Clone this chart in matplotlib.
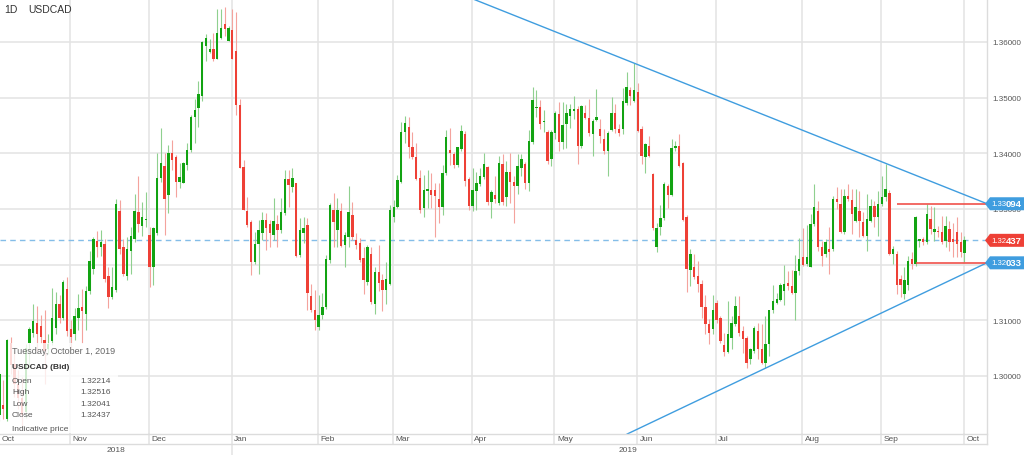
import numpy as np
import pandas as pd
import matplotlib
matplotlib.use("Agg")
import matplotlib.pyplot as plt
from matplotlib import transforms
from matplotlib.patches import Polygon, Rectangle
from matplotlib.lines import Line2D

plt.rcParams['font.family'] = ['Liberation Sans', 'DejaVu Sans']

# daily USDCAD candles, 5 Oct 2018 .. 1 Oct 2019
dates = pd.bdate_range("2018-10-05", "2019-10-01")

opens = [
    # Oct 2018
    1.2930, 1.2948, 1.2923, 1.3060, 1.3022, 1.2985, 1.2960, 1.2935, 1.3060, 1.3078,
    1.3096, 1.3090, 1.3065, 1.3048, 1.3062, 1.3087, 1.3130, 1.3105, 1.3156,
    # Nov
    1.3085, 1.3075, 1.3105, 1.3124, 1.3112, 1.3153, 1.3192, 1.3243, 1.3232, 1.3237,
    1.3180, 1.3141, 1.3155, 1.3297, 1.3231, 1.3180, 1.3225, 1.3246, 1.3294, 1.3270,
    1.3280, 1.3253,
    # Dec
    1.3196, 1.3256, 1.3355, 1.3378, 1.3325, 1.3400, 1.3394, 1.3349, 1.3347, 1.3379,
    1.3406, 1.3466, 1.3482, 1.3503, 1.3593, 1.3582, 1.3587, 1.3569, 1.3608, 1.3632,
    1.3602,
    # Jan 2019
    1.3621, 1.3584, 1.3486, 1.3376, 1.3297, 1.3277, 1.3205, 1.3237, 1.3256, 1.3280,
    1.3273, 1.3253, 1.3273, 1.3262, 1.3292, 1.3354, 1.3340, 1.3347, 1.3217, 1.3256,
    1.3271, 1.3143, 1.3119,
    # Feb
    1.3088, 1.3109, 1.3124, 1.3209, 1.3299, 1.3262, 1.3296, 1.3235, 1.3250, 1.3289,
    1.3244, 1.3239, 1.3212, 1.3169, 1.3220, 1.3130, 1.3187, 1.3172, 1.3154, 1.3166,
    # Mar
    1.3286, 1.3304, 1.3349, 1.3438, 1.3447, 1.3411, 1.3393, 1.3355, 1.3301, 1.3333,
    1.3335, 1.3334, 1.3318, 1.3303, 1.3364, 1.3406, 1.3399, 1.3379, 1.3407, 1.3435,
    1.3354,
    # Apr
    1.3305, 1.3333, 1.3345, 1.3357, 1.3375, 1.3313, 1.3326, 1.3310, 1.3381, 1.3321,
    1.3366, 1.3348, 1.3342, 1.3373, 1.3381, 1.3347, 1.3420, 1.3481, 1.3484, 1.3456,
    1.3438, 1.3390,
    # May
    1.3437, 1.3470, 1.3420, 1.3452, 1.3467, 1.3476, 1.3479, 1.3413, 1.3473, 1.3464,
    1.3435, 1.3459, 1.3443, 1.3425, 1.3404, 1.3441, 1.3473, 1.3443, 1.3443, 1.3491,
    1.3514, 1.3494, 1.3510,
    # Jun
    1.3443, 1.3393, 1.3413, 1.3362, 1.3232, 1.3268, 1.3283, 1.3342, 1.3326, 1.3409,
    1.3413, 1.3383, 1.3286, 1.3190, 1.3196, 1.3180, 1.3166, 1.3124, 1.3094, 1.3085,
    # Jul
    1.3132, 1.3104, 1.3055, 1.3043, 1.3069, 1.3094, 1.3107, 1.3080, 1.3069, 1.3030,
    1.3045, 1.3080, 1.3048, 1.3024, 1.3057, 1.3118, 1.3132, 1.3137, 1.3152, 1.3167,
    1.3161, 1.3149, 1.3188,
    # Aug
    1.3214, 1.3202, 1.3196, 1.3273, 1.3297, 1.3231, 1.3219, 1.3228, 1.3228, 1.3318,
    1.3309, 1.3258, 1.3324, 1.3316, 1.3279, 1.3297, 1.3276, 1.3252, 1.3279, 1.3306,
    1.3285, 1.3309,
    # Sep
    1.3321, 1.3328, 1.3219, 1.3219, 1.3175, 1.3148, 1.3163, 1.3210, 1.3201, 1.3243,
    1.3246, 1.3240, 1.3282, 1.3258, 1.3261, 1.3258, 1.3243, 1.3264, 1.3246, 1.3258,
    1.3240,
    # Oct
    1.32214,
]

highs = [
    1.3008, 1.2992, 1.3067, 1.3070, 1.3045, 1.3010, 1.2998, 1.3058, 1.3088, 1.3129,
    1.3125, 1.3110, 1.3118, 1.3075, 1.3158, 1.3150, 1.3145, 1.3172, 1.3177,
    1.3100, 1.3123, 1.3147, 1.3157, 1.3162, 1.3225, 1.3249, 1.3261, 1.3262, 1.3246,
    1.3195, 1.3196, 1.3318, 1.3316, 1.3246, 1.3250, 1.3267, 1.3327, 1.3360, 1.3312,
    1.3330, 1.3268,
    1.3268, 1.3400, 1.3445, 1.3400, 1.3415, 1.3424, 1.3397, 1.3382, 1.3385, 1.3418,
    1.3469, 1.3497, 1.3530, 1.3602, 1.3614, 1.3605, 1.3617, 1.3659, 1.3659, 1.3662,
    1.3629,
    1.3659, 1.3653, 1.3497, 1.3388, 1.3322, 1.3280, 1.3259, 1.3280, 1.3295, 1.3292,
    1.3280, 1.3319, 1.3289, 1.3319, 1.3370, 1.3370, 1.3373, 1.3347, 1.3283, 1.3286,
    1.3283, 1.3165, 1.3155,
    1.3145, 1.3149, 1.3217, 1.3310, 1.3328, 1.3319, 1.3310, 1.3259, 1.3341, 1.3313,
    1.3256, 1.3247, 1.3232, 1.3235, 1.3232, 1.3196, 1.3235, 1.3184, 1.3205, 1.3307,
    1.3316, 1.3361, 1.3457, 1.3467, 1.3466, 1.3439, 1.3418, 1.3370, 1.3361, 1.3370,
    1.3365, 1.3346, 1.3346, 1.3379, 1.3442, 1.3445, 1.3403, 1.3412, 1.3450, 1.3440,
    1.3357,
    1.3374, 1.3366, 1.3374, 1.3401, 1.3378, 1.3334, 1.3360, 1.3395, 1.3399, 1.3387,
    1.3400, 1.3360, 1.3398, 1.3398, 1.3384, 1.3441, 1.3520, 1.3514, 1.3495, 1.3477,
    1.3441, 1.3441,
    1.3476, 1.3492, 1.3492, 1.3488, 1.3488, 1.3503, 1.3485, 1.3486, 1.3486, 1.3497,
    1.3461, 1.3515, 1.3461, 1.3443, 1.3440, 1.3502, 1.3488, 1.3452, 1.3518, 1.3546,
    1.3520, 1.3563, 1.3527,
    1.3449, 1.3419, 1.3431, 1.3365, 1.3274, 1.3308, 1.3348, 1.3345, 1.3425, 1.3422,
    1.3434, 1.3384, 1.3289, 1.3229, 1.3220, 1.3207, 1.3172, 1.3145, 1.3103, 1.3145,
    1.3137, 1.3107, 1.3078, 1.3135, 1.3107, 1.3143, 1.3143, 1.3089, 1.3072, 1.3051,
    1.3089, 1.3095, 1.3093, 1.3107, 1.3119, 1.3164, 1.3149, 1.3167, 1.3200, 1.3188,
    1.3191, 1.3218, 1.3247,
    1.3266, 1.3272, 1.3291, 1.3345, 1.3315, 1.3243, 1.3246, 1.3267, 1.3324, 1.3339,
    1.3336, 1.3336, 1.3345, 1.3336, 1.3336, 1.3333, 1.3294, 1.3327, 1.3318, 1.3315,
    1.3333, 1.3360,
    1.3381, 1.3334, 1.3234, 1.3225, 1.3181, 1.3196, 1.3215, 1.3222, 1.3288, 1.3246,
    1.3250, 1.3309, 1.3306, 1.3303, 1.3270, 1.3288, 1.3288, 1.3279, 1.3275, 1.3285,
    1.3258,
    1.32516,
]

lows = [
    1.2920, 1.2923, 1.2920, 1.3004, 1.2962, 1.2940, 1.2908, 1.2925, 1.3016, 1.3070,
    1.3045, 1.3060, 1.2985, 1.3040, 1.3055, 1.3075, 1.3095, 1.3100, 1.3072,
    1.3050, 1.3065, 1.3082, 1.3060, 1.3082, 1.3147, 1.3183, 1.3213, 1.3215, 1.3168,
    1.3123, 1.3138, 1.3150, 1.3219, 1.3180, 1.3172, 1.3183, 1.3240, 1.3258, 1.3252,
    1.3267, 1.3160,
    1.3163, 1.3253, 1.3349, 1.3253, 1.3292, 1.3370, 1.3322, 1.3337, 1.3346, 1.3370,
    1.3403, 1.3418, 1.3448, 1.3494, 1.3566, 1.3581, 1.3566, 1.3569, 1.3605, 1.3611,
    1.3602,
    1.3569, 1.3469, 1.3373, 1.3298, 1.3268, 1.3181, 1.3202, 1.3183, 1.3244, 1.3226,
    1.3232, 1.3244, 1.3232, 1.3256, 1.3289, 1.3304, 1.3331, 1.3214, 1.3214, 1.3238,
    1.3118, 1.3115, 1.3082,
    1.3082, 1.3103, 1.3121, 1.3203, 1.3232, 1.3232, 1.3232, 1.3196, 1.3232, 1.3244,
    1.3229, 1.3205, 1.3148, 1.3163, 1.3130, 1.3112, 1.3153, 1.3117, 1.3129, 1.3163,
    1.3277, 1.3301, 1.3346, 1.3418, 1.3391, 1.3389, 1.3352, 1.3292, 1.3286, 1.3301,
    1.3301, 1.3250, 1.3274, 1.3289, 1.3361, 1.3379, 1.3373, 1.3376, 1.3405, 1.3342,
    1.3299,
    1.3296, 1.3298, 1.3341, 1.3354, 1.3307, 1.3283, 1.3310, 1.3308, 1.3308, 1.3305,
    1.3310, 1.3274, 1.3327, 1.3359, 1.3336, 1.3333, 1.3416, 1.3465, 1.3444, 1.3438,
    1.3380, 1.3377,
    1.3425, 1.3405, 1.3407, 1.3410, 1.3445, 1.3462, 1.3381, 1.3410, 1.3461, 1.3431,
    1.3395, 1.3458, 1.3419, 1.3398, 1.3359, 1.3440, 1.3437, 1.3431, 1.3434, 1.3486,
    1.3486, 1.3492, 1.3438,
    1.3381, 1.3365, 1.3394, 1.3262, 1.3222, 1.3253, 1.3280, 1.3301, 1.3323, 1.3405,
    1.3375, 1.3279, 1.3150, 1.3162, 1.3175, 1.3150, 1.3105, 1.3076, 1.3057, 1.3076,
    1.3095, 1.3060, 1.3036, 1.3042, 1.3048, 1.3089, 1.3072, 1.3042, 1.3015, 1.3021,
    1.3042, 1.3030, 1.3021, 1.3015, 1.3036, 1.3113, 1.3130, 1.3134, 1.3128, 1.3155,
    1.3148, 1.3101, 1.3182,
    1.3197, 1.3197, 1.3196, 1.3270, 1.3225, 1.3198, 1.3213, 1.3184, 1.3225, 1.3300,
    1.3257, 1.3255, 1.3315, 1.3255, 1.3276, 1.3249, 1.3249, 1.3225, 1.3276, 1.3267,
    1.3252, 1.3306,
    1.3315, 1.3218, 1.3201, 1.3148, 1.3142, 1.3139, 1.3154, 1.3192, 1.3198, 1.3231,
    1.3235, 1.3237, 1.3255, 1.3243, 1.3250, 1.3237, 1.3231, 1.3225, 1.3213, 1.3213,
    1.3213,
    1.32041,
]

closes = [
    1.3004, 1.2941, 1.3064, 1.3020, 1.2985, 1.2960, 1.2930, 1.3050, 1.3084, 1.3099,
    1.3075, 1.3070, 1.3045, 1.3058, 1.3105, 1.3129, 1.3105, 1.3168, 1.3081,
    1.3070, 1.3108, 1.3123, 1.3116, 1.3153, 1.3207, 1.3246, 1.3232, 1.3240, 1.3174,
    1.3141, 1.3160, 1.3309, 1.3228, 1.3183, 1.3228, 1.3252, 1.3297, 1.3273, 1.3285,
    1.3282, 1.3196,
    1.3265, 1.3355, 1.3382, 1.3318, 1.3400, 1.3388, 1.3349, 1.3358, 1.3382, 1.3406,
    1.3466, 1.3477, 1.3506, 1.3600, 1.3608, 1.3587, 1.3569, 1.3617, 1.3626, 1.3623,
    1.3625,
    1.3569, 1.3486, 1.3373, 1.3298, 1.3271, 1.3205, 1.3237, 1.3263, 1.3280, 1.3265,
    1.3256, 1.3279, 1.3262, 1.3295, 1.3354, 1.3343, 1.3355, 1.3215, 1.3262, 1.3265,
    1.3149, 1.3119, 1.3100,
    1.3109, 1.3124, 1.3211, 1.3307, 1.3277, 1.3299, 1.3233, 1.3254, 1.3295, 1.3250,
    1.3235, 1.3209, 1.3172, 1.3232, 1.3133, 1.3187, 1.3167, 1.3154, 1.3175, 1.3298,
    1.3304, 1.3352, 1.3438, 1.3454, 1.3412, 1.3393, 1.3353, 1.3298, 1.3334, 1.3335,
    1.3325, 1.3324, 1.3303, 1.3364, 1.3429, 1.3400, 1.3379, 1.3411, 1.3440, 1.3350,
    1.3305,
    1.3335, 1.3347, 1.3359, 1.3380, 1.3313, 1.3330, 1.3318, 1.3383, 1.3313, 1.3366,
    1.3348, 1.3342, 1.3377, 1.3390, 1.3347, 1.3422, 1.3496, 1.3483, 1.3453, 1.3458,
    1.3387, 1.3438,
    1.3473, 1.3420, 1.3450, 1.3473, 1.3480, 1.3480, 1.3413, 1.3485, 1.3464, 1.3437,
    1.3458, 1.3466, 1.3431, 1.3404, 1.3437, 1.3473, 1.3443, 1.3437, 1.3494, 1.3520,
    1.3503, 1.3514, 1.3440,
    1.3395, 1.3417, 1.3395, 1.3266, 1.3266, 1.3283, 1.3345, 1.3326, 1.3410, 1.3413,
    1.3377, 1.3280, 1.3193, 1.3219, 1.3178, 1.3166, 1.3124, 1.3094, 1.3077, 1.3118,
    1.3101, 1.3063, 1.3043, 1.3075, 1.3095, 1.3125, 1.3078, 1.3066, 1.3024, 1.3048,
    1.3086, 1.3048, 1.3024, 1.3057, 1.3118, 1.3134, 1.3139, 1.3164, 1.3166, 1.3161,
    1.3149, 1.3188, 1.3210,
    1.3199, 1.3214, 1.3273, 1.3303, 1.3231, 1.3215, 1.3240, 1.3222, 1.3318, 1.3312,
    1.3258, 1.3324, 1.3318, 1.3291, 1.3303, 1.3279, 1.3252, 1.3282, 1.3306, 1.3285,
    1.3309, 1.3321,
    1.3336, 1.3219, 1.3228, 1.3163, 1.3163, 1.3172, 1.3207, 1.3201, 1.3285, 1.3246,
    1.3240, 1.3291, 1.3264, 1.3264, 1.3258, 1.3240, 1.3270, 1.3240, 1.3240, 1.3237,
    1.3222,
    1.32437,
]

# drawn annotations (date, price)
trend_upper = [("2019-05-30", 1.3562), ("2019-09-02", 1.3382)]
trend_lower = [("2019-07-18", 1.3014), ("2019-09-10", 1.3136)]
level_lines = [("2019-09-05", 1.33094), ("2019-09-12", 1.32033)]
price_ticks = [1.30, 1.31, 1.32, 1.33, 1.34, 1.35, 1.36]

GREEN, GREEN_WICK = "#12a312", "#8fd08f"
RED, RED_WICK = "#ee4036", "#f4a39d"
BLUE = "#3f9ddf"
GRID = "#e3e3e3"
TXT = "#555555"

W, H = 1024, 456
fig = plt.figure(figsize=(W / 100, H / 100), dpi=100)
ax = fig.add_axes([0, 21 / H, 987 / W, 435 / H])

o, h, l, c = (np.array(v) for v in (opens, highs, lows, closes))
x = np.arange(len(dates))
up = c >= o
for mask, body_col, wick_col in [(up, GREEN, GREEN_WICK), (~up, RED, RED_WICK)]:
    ax.vlines(x[mask], l[mask], h[mask], color=wick_col, lw=0.8, zorder=2)
    ax.bar(x[mask], np.maximum(np.abs(c - o)[mask], 0.00022),
           bottom=np.minimum(o, c)[mask], width=0.64, color=body_col, lw=0, zorder=3)

ax.set_xlim(0.145, 263.0)
ax.set_ylim(1.28958, 1.36772)

def pos(day):
    return dates.get_loc(pd.Timestamp(day))

# month grid: last trading day on/before the 1st
month_starts = pd.date_range("2018-11-01", "2019-10-01", freq="MS")
month_pos = dates.searchsorted(month_starts, side="right") - 1 - 0.2
ax.set_xticks(month_pos)
ax.set_xticklabels([])
ax.set_yticks(price_ticks)
ax.yaxis.tick_right()
# the 1.32000 label sits fully under the 1.32033 tag in the original
ax.set_yticklabels(["" if abs(p - level_lines[1][1]) < 0.001 else f"{p:.5f}" for p in price_ticks])
ax.tick_params(length=0, labelsize=5.8, labelcolor=TXT, pad=4)
ax.grid(True, color=GRID, lw=1.1, zorder=0)
ax.set_axisbelow(True)
for s in ax.spines.values():
    s.set_visible(False)

# trend lines, level lines, last price line
ax.axline((pos(trend_upper[0][0]), trend_upper[0][1]),
          (pos(trend_upper[1][0]), trend_upper[1][1]), color=BLUE, lw=1, zorder=4)
ax.axline((pos(trend_lower[0][0]), trend_lower[0][1]),
          (pos(trend_lower[1][0]), trend_lower[1][1]), color=BLUE, lw=1, zorder=4)
for day, price in level_lines:
    ax.hlines(price, pos(day), 263.0, color="#f0524b", lw=1.2, zorder=4)
ax.axhline(closes[-1], color="#84bde8", lw=1, ls=(0, (4, 3)), zorder=1)

# bottom date strip
xt = ax.get_xaxis_transform()
for p in month_pos:
    bottom = -21 / 435 if p == month_pos[2] else -10 / 435
    ax.plot([p, p], [0, bottom], transform=xt, color=GRID, lw=1.1, clip_on=False)
for yy in (435, 445):
    fig.add_artist(Line2D([0, 987 / W], [1 - yy / H] * 2, color="#dcdcdc", lw=1))
fig.add_artist(Line2D([987 / W] * 2, [1 - 445 / H, 1], color="#dcdcdc", lw=1))

lab_tr = transforms.offset_copy(xt, fig=fig, x=2.5, y=-5, units="dots")
ax.text(0.145 - 0.3, 0, "Oct", transform=lab_tr, fontsize=6, color=TXT, va="center", ha="left")
for p, m in zip(month_pos, month_starts):
    ax.text(p, 0, m.strftime("%b"), transform=lab_tr, fontsize=6, color=TXT,
            va="center", ha="left", clip_on=False)

fig.canvas.draw()
jan_px = ax.transData.transform((month_pos[2], 0))[0]
fig.text(jan_px / 2 / W, 1 - 450.5 / H, "2018", fontsize=6, color=TXT, ha="center", va="center")
fig.text((jan_px + W) / 2 / W, 1 - 450.5 / H, "2019", fontsize=6, color=TXT, ha="center", va="center")

# price tags on the right
tag_tr = transforms.blended_transform_factory(fig.transFigure, ax.transData)
half = 6.5 / 5567
for price, col in [(level_lines[0][1], BLUE), (closes[-1], RED), (level_lines[1][1], BLUE)]:
    pts = [(985 / W, price), (990 / W, price + half), (1.0, price + half),
           (1.0, price - half), (990 / W, price - half)]
    fig.add_artist(Polygon(pts, closed=True, transform=tag_tr, color=col, lw=0, zorder=5))
    s = f"{price:.5f}"
    fig.text(991.5 / W, price, s[:4], transform=tag_tr, fontsize=5.6, color="white",
             va="center", ha="left", zorder=6)
    fig.text(1005.5 / W, price, s[4:], transform=tag_tr, fontsize=6.8, color="white",
             weight="bold", va="center", ha="left", zorder=6)

# header
fig.text(4 / W, 1 - 10 / H, "1D", fontsize=7.5, color="#333333", va="center")
fig.text(28 / W, 1 - 10 / H, "USDCAD", fontsize=7.5, color="#333333", va="center")

# info box
fig.add_artist(Rectangle((10 / W, 1 - 434 / H), 108 / W, 90 / H, transform=fig.transFigure,
                         facecolor="white", edgecolor="none", alpha=0.8, zorder=4))
fig.text(12 / W, 1 - 352 / H, dates[-1].strftime("%A, %B %-d, %Y"), fontsize=6.5,
         color="#666666", va="center", zorder=6)
fig.text(12 / W, 1 - 368 / H, "USDCAD (Bid)", fontsize=6, color="#333333",
         weight="bold", va="center", zorder=6)
rows = [("Open", opens[-1]), ("High", highs[-1]), ("Low", lows[-1]), ("Close", closes[-1])]
for k, (name, val) in enumerate(rows):
    yy = 1 - (381.5 + k * 11.4) / H
    fig.text(12 / W, yy, name, fontsize=6, color=TXT, va="center", zorder=6)
    fig.text(111 / W, yy, f"{val:.5f}", fontsize=6, color=TXT, va="center", ha="right", zorder=6)
fig.text(12 / W, 1 - 430 / H, "Indicative price", fontsize=6, color=TXT, va="center", zorder=6)

fig.savefig("out.png", dpi=100)
